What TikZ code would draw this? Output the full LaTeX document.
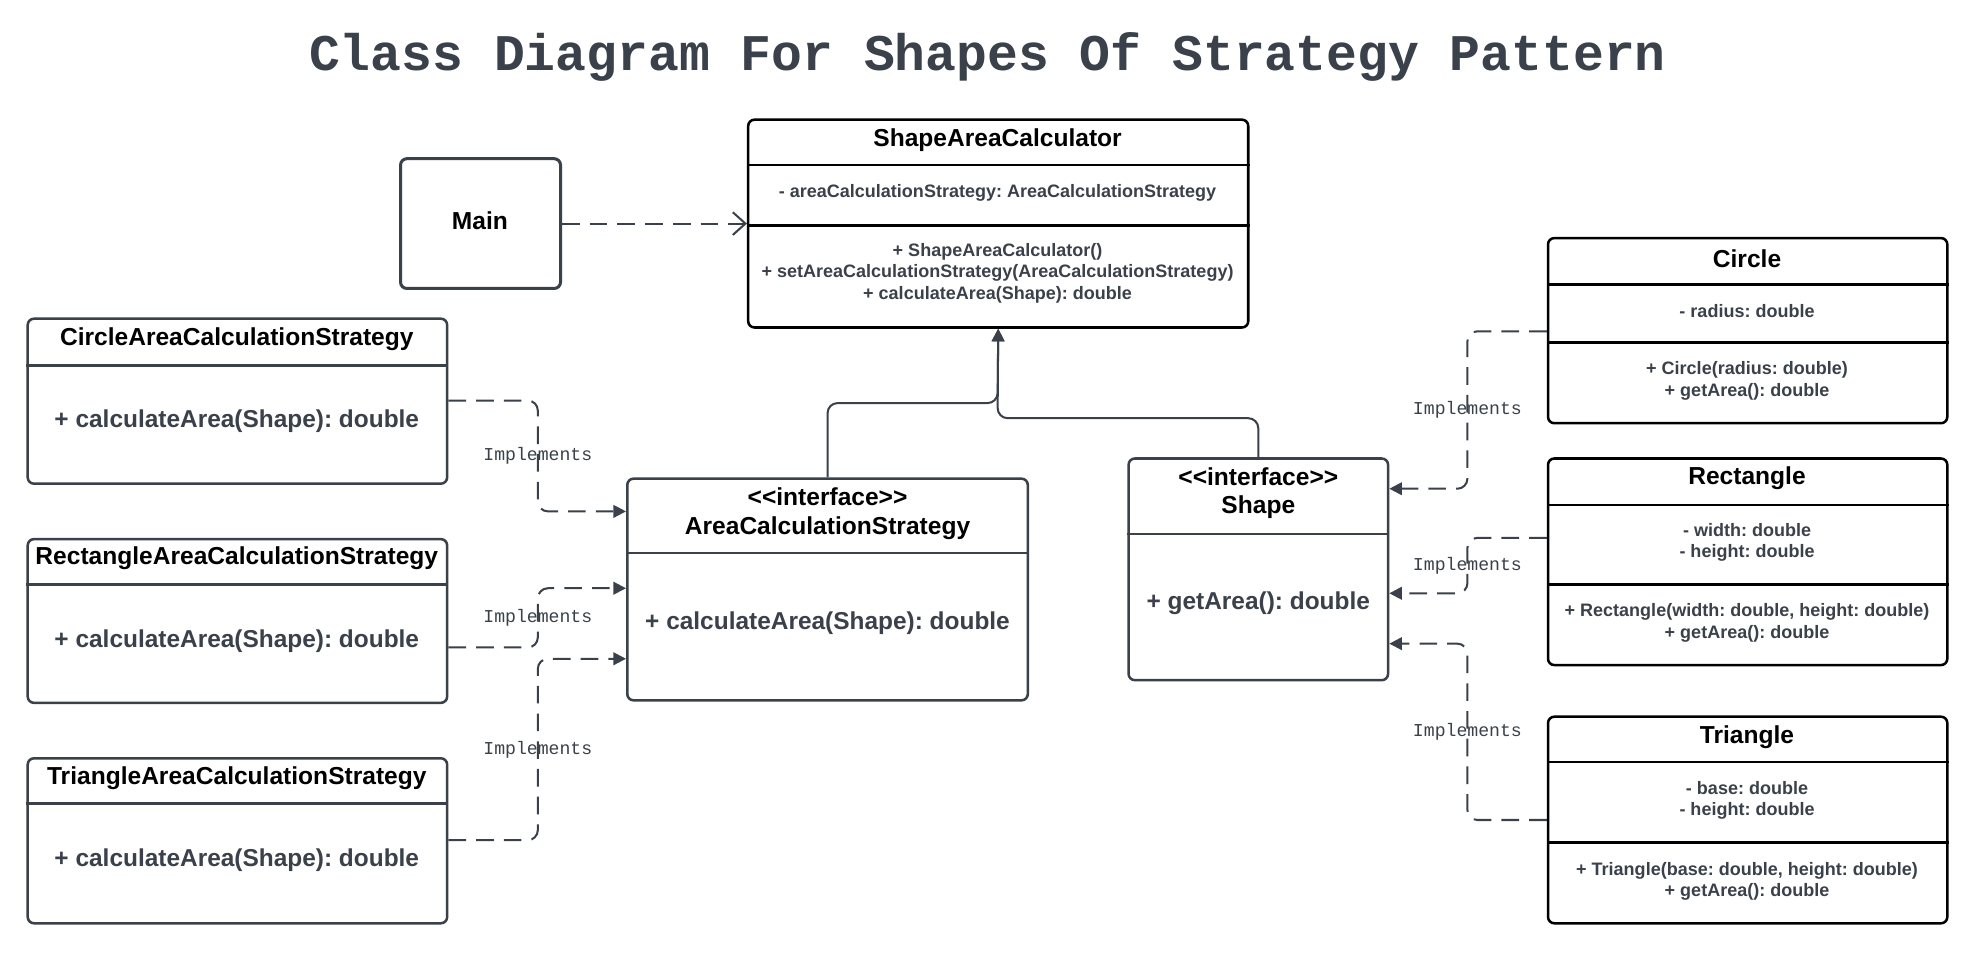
\documentclass[tikz,border=0pt]{standalone}
\usepackage{fontspec}
\setmainfont{Liberation Sans}
\setmonofont{Liberation Mono}
\usetikzlibrary{arrows.meta,fit}
\definecolor{ink}{HTML}{3A414A}
\frenchspacing

\begin{document}
\begin{tikzpicture}[x=0.5pt,y=-0.5pt,
    classbox/.style={draw=ink, line width=1pt, rounded corners=2.5pt, inner sep=0pt},
    blackbox/.style={classbox, draw=black},
    divider/.style={draw=ink, line width=1pt},
    hdr/.style={font=\fontsize{9.75}{11.5}\selectfont\bfseries, text=black, align=center, inner sep=0pt},
    member/.style={font=\fontsize{7.15}{8.5}\selectfont\bfseries, text=ink, align=center, inner sep=0pt},
    bigmember/.style={font=\fontsize{9.7}{11.5}\selectfont\bfseries, text=ink, inner sep=0pt},
    impl/.style={draw=ink, line width=0.8pt, dash pattern=on 7pt off 4pt, rounded corners=4pt, -{Triangle[length=5pt,width=5pt]}},
    lbl/.style={font=\ttfamily\fontsize{7.2}{8}\selectfont, text=ink},
    inherit/.style={draw=ink, line width=0.8pt, rounded corners=4pt, -{Triangle[length=5pt,width=5pt]}}]
    \fill[white] (0,0) rectangle (1568,757.4);
    \useasboundingbox (0,0) rectangle (1568,757.4);

    \node[font=\ttfamily\bfseries\fontsize{20.4}{22}\selectfont, text=ink] (title) at (784,45) {Class Diagram For Shapes Of Strategy Pattern};

    % main and calculator
    \node[classbox, line width=1.2pt, fit={(318,126) (445,229)}] (main) {};
    \node[hdr] (main-name) at (381,175) {Main};
    \node[blackbox, fit={(594,95) (991,260)}] (sac) {};
    \draw[divider, draw=black] (sac.west |- 0,131) -- (sac.east |- 0,131);
    \draw[divider, draw=black] (sac.west |- 0,179) -- (sac.east |- 0,179);
    \node[hdr] (sac-name) at (792,111) {ShapeAreaCalculator};
    \node[member] (sac-attr) at (792,153) {- areaCalculationStrategy: AreaCalculationStrategy};
    \node[member] (sac-ops) at (792,217) {+ ShapeAreaCalculator()\\+ setAreaCalculationStrategy(AreaCalculationStrategy)\\+ calculateArea(Shape): double};

    % strategies
    \node[classbox, fit={(22,253) (355,384)}] (cacs) {};
    \draw[divider] (cacs.west |- 0,290) -- (cacs.east |- 0,290);
    \node[hdr] (cacs-name) at (188,269) {CircleAreaCalculationStrategy};
    \node[bigmember] (cacs-ops) at (188,334) {+ calculateArea(Shape): double};
    \node[classbox, fit={(22,428) (355,558)}] (racs) {};
    \draw[divider] (racs.west |- 0,464) -- (racs.east |- 0,464);
    \node[hdr] (racs-name) at (188,443) {RectangleAreaCalculationStrategy};
    \node[bigmember] (racs-ops) at (188,509) {+ calculateArea(Shape): double};
    \node[classbox, fit={(22,602) (355,733)}] (tacs) {};
    \draw[divider] (tacs.west |- 0,638) -- (tacs.east |- 0,638);
    \node[hdr] (tacs-name) at (188,618) {TriangleAreaCalculationStrategy};
    \node[bigmember] (tacs-ops) at (188,683) {+ calculateArea(Shape): double};

    % interfaces
    \node[classbox, fit={(498,380) (816,556)}] (acs) {};
    \draw[divider] (acs.west |- 0,439) -- (acs.east |- 0,439);
    \node[hdr] (acs-name) at (657,407.5) {<{}<interface>{}>\\AreaCalculationStrategy};
    \node[bigmember] (acs-ops) at (657,495) {+ calculateArea(Shape): double};
    \node[classbox, fit={(896,364) (1102,540)}] (shape) {};
    \draw[divider] (shape.west |- 0,424) -- (shape.east |- 0,424);
    \node[hdr] (shape-name) at (999,391.5) {<{}<interface>{}>\\Shape};
    \node[bigmember] (shape-ops) at (999,479) {+ getArea(): double};

    % shapes
    \node[blackbox, fit={(1229,189) (1546,336)}] (circle) {};
    \draw[divider, draw=black] (circle.west |- 0,226) -- (circle.east |- 0,226);
    \draw[divider, draw=black] (circle.west |- 0,272) -- (circle.east |- 0,272);
    \node[hdr] (circle-name) at (1387,205) {Circle};
    \node[member] (circle-attr) at (1387,247) {- radius: double};
    \node[member] (circle-ops) at (1387,302.5) {+ Circle(radius: double)\\+ getArea(): double};
    \node[blackbox, fit={(1229,364) (1546,528)}] (rect) {};
    \draw[divider, draw=black] (rect.west |- 0,401) -- (rect.east |- 0,401);
    \draw[divider, draw=black] (rect.west |- 0,464) -- (rect.east |- 0,464);
    \node[hdr] (rect-name) at (1387,380) {Rectangle};
    \node[member] (rect-attr) at (1387,430.5) {- width: double\\- height: double};
    \node[member] (rect-ops) at (1387,494.5) {+ Rectangle(width: double, height: double)\\+ getArea(): double};
    \node[blackbox, fit={(1229,569) (1546,733)}] (tri) {};
    \draw[divider, draw=black] (tri.west |- 0,605) -- (tri.east |- 0,605);
    \draw[divider, draw=black] (tri.west |- 0,669) -- (tri.east |- 0,669);
    \node[hdr] (tri-name) at (1387,585) {Triangle};
    \node[member] (tri-attr) at (1387,635.5) {- base: double\\- height: double};
    \node[member] (tri-ops) at (1387,699.5) {+ Triangle(base: double, height: double)\\+ getArea(): double};

    % connectors
    \draw[draw=ink, line width=0.8pt, dash pattern=on 7pt off 4pt, -{Straight Barb[length=5pt,width=9pt]}] (main.east) -- (sac.west |- main.east);
    \draw[inherit] (acs.north) |- (792,320) -- (sac.south);
    \draw[inherit] (shape.north) |- (792,332) -- (sac.south);

    \draw[impl] (cacs.east |- 0,318) -| node[lbl, pos=0.75] {Implements} (427,406) -- (acs.west |- 0,406);
    \draw[impl] (racs.east |- 0,514) -| node[lbl, pos=0.75] {Implements} (427,467) -- (acs.west |- 0,467);
    \draw[impl] (tacs.east |- 0,667) -| node[lbl, pos=0.75] {Implements} (427,523) -- (acs.west |- 0,523);
    \draw[impl] (circle.west |- 0,263) -| node[lbl, pos=0.75] {Implements} (1165,388) -- (shape.east |- 0,388);
    \draw[impl] (rect.west |- 0,427) -| node[lbl, pos=0.75] {Implements} (1165,471) -- (shape.east |- 0,471);
    \draw[impl] (tri.west |- 0,651) -| node[lbl, pos=0.75] {Implements} (1165,511) -- (shape.east |- 0,511);
\end{tikzpicture}
\end{document}
